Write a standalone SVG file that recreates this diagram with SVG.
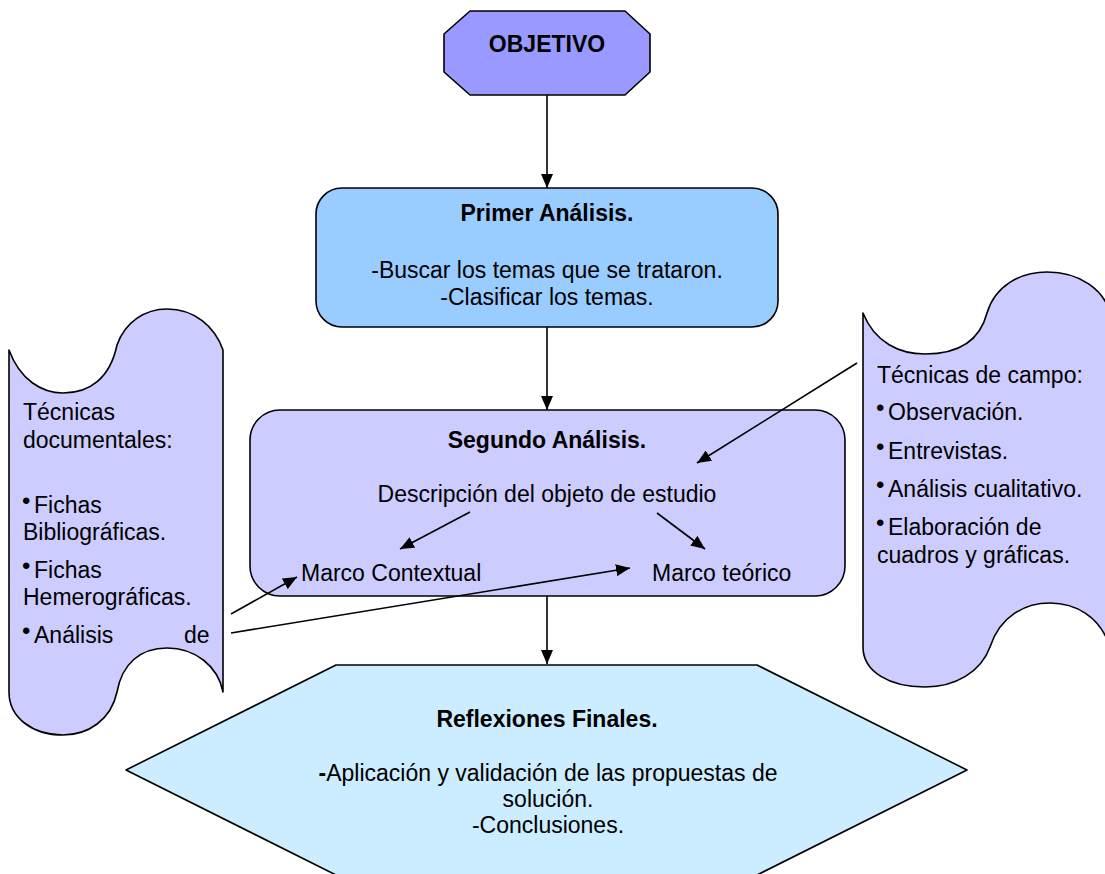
<svg xmlns="http://www.w3.org/2000/svg" width="1105" height="874" viewBox="0 0 1105 874">
  <defs>
    <marker id="arrow" viewBox="0 0 14 12" refX="14" refY="6" markerWidth="14" markerHeight="12" markerUnits="userSpaceOnUse" orient="auto">
      <path d="M0,0 L14,6 L0,12 Z" fill="#000"/>
    </marker>
    <style>
      .shape { stroke: #000; stroke-width: 1.6; stroke-linejoin: round; }
      .txt { font-family: "Liberation Sans", Arial, sans-serif; font-size: 23px; fill: #000; }
      .bold { font-weight: bold; }
      .mid { text-anchor: middle; }
      .bul { font-size: 24px; }
      .conn line { stroke: #000; stroke-width: 1.6; marker-end: url(#arrow); }
    </style>
  </defs>
  <rect width="1105" height="874" fill="#fff"/>

  <!-- Objective (octagon) -->
  <g id="objetivo">
    <polygon class="shape" fill="#9999ff" points="470,11 625,11 650,34 650,72 625,95 470,95 444,72 444,34"/>
    <text class="txt bold mid" x="547" y="52">OBJETIVO</text>
  </g>

  <!-- First analysis -->
  <g id="primer-analisis">
    <rect class="shape" fill="#99ccff" x="316" y="188" width="462" height="139" rx="26" ry="26"/>
    <text class="txt bold mid" x="547" y="221">Primer Análisis.</text>
    <text class="txt mid" x="547" y="278">-Buscar los temas que se trataron.</text>
    <text class="txt mid" x="547" y="305">-Clasificar los temas.</text>
  </g>

  <!-- Second analysis -->
  <g id="segundo-analisis">
    <rect class="shape" fill="#ccccff" x="250" y="410" width="595" height="186" rx="30" ry="30"/>
    <text class="txt bold mid" x="547" y="448">Segundo Análisis.</text>
    <text class="txt mid" x="547" y="502">Descripción del objeto de estudio</text>
    <text class="txt" x="301" y="581">Marco Contextual</text>
    <text class="txt" x="652" y="581">Marco teórico</text>
  </g>

  <!-- Documentary techniques (left banner) -->
  <g id="tecnicas-documentales">
    <path class="shape" fill="#ccccff" d="M9,350 C20,380 42,393 63,393 C90,393 110,378 117,345 C125,322 145,309 167,309 C195,309 215,327 223,350 L223,692 C218,666 195,648 167,648 C140,648 122,664 117,692 C111,720 88,735 63,735 C33,735 9,718 9,692 Z"/>
    <text class="txt" x="23" y="420">Técnicas</text>
    <text class="txt" x="23" y="448">documentales:</text>
    <text class="txt" y="513"><tspan class="bul" x="22" dy="-4">•</tspan><tspan x="34" dy="4">Fichas</tspan></text>
    <text class="txt" x="23" y="540">Bibliográficas.</text>
    <text class="txt" y="578"><tspan class="bul" x="22" dy="-4">•</tspan><tspan x="34" dy="4">Fichas</tspan></text>
    <text class="txt" x="23" y="605">Hemerográficas.</text>
    <text class="txt" y="643"><tspan class="bul" x="22" dy="-4">•</tspan><tspan x="34" dy="4">Análisis</tspan><tspan x="184">de</tspan></text>
  </g>

  <!-- Field techniques (right banner) -->
  <g id="tecnicas-campo">
    <path class="shape" fill="#ccccff" d="M863,313 C875,343 900,354 925,354 C960,354 980,340 987,313 C995,286 1020,272 1047,272 C1080,272 1104,290 1110,313 L1110,647 C1100,616 1075,603 1050,603 C1025,603 1000,616 990,647 C981,672 955,687 925,687 C890,687 863,672 863,647 Z"/>
    <text class="txt" x="877" y="383">Técnicas de campo:</text>
    <text class="txt" y="420"><tspan class="bul" x="876" dy="-4">•</tspan><tspan x="888" dy="4">Observación.</tspan></text>
    <text class="txt" y="459"><tspan class="bul" x="876" dy="-4">•</tspan><tspan x="888" dy="4">Entrevistas.</tspan></text>
    <text class="txt" y="497"><tspan class="bul" x="876" dy="-4">•</tspan><tspan x="888" dy="4">Análisis cualitativo.</tspan></text>
    <text class="txt" y="535"><tspan class="bul" x="876" dy="-4">•</tspan><tspan x="888" dy="4">Elaboración de</tspan></text>
    <text class="txt" x="877" y="563">cuadros y gráficas.</text>
  </g>

  <!-- Final reflections (hexagon) -->
  <g id="reflexiones-finales">
    <polygon class="shape" fill="#ccecff" points="336,665 757,665 967,770 757,875 336,875 126,770"/>
    <text class="txt bold mid" x="547" y="727">Reflexiones Finales.</text>
    <text class="txt mid" x="548" y="781"><tspan class="bold">-</tspan>Aplicación y validación de las propuestas de</text>
    <text class="txt mid" x="548" y="807">solución.</text>
    <text class="txt mid" x="548" y="833">-Conclusiones.</text>
  </g>

  <!-- Connectors -->
  <g id="connectors" class="conn">
    <line x1="547" y1="95" x2="547" y2="188"/>
    <line x1="547" y1="327" x2="547" y2="410"/>
    <line x1="547" y1="596" x2="547" y2="664"/>
    <line x1="470" y1="512" x2="400" y2="549"/>
    <line x1="657" y1="513" x2="705" y2="549"/>
    <line x1="857" y1="363" x2="697" y2="463"/>
    <line x1="231" y1="614" x2="297" y2="577"/>
    <line x1="231" y1="633" x2="630" y2="568"/>
  </g>
</svg>
